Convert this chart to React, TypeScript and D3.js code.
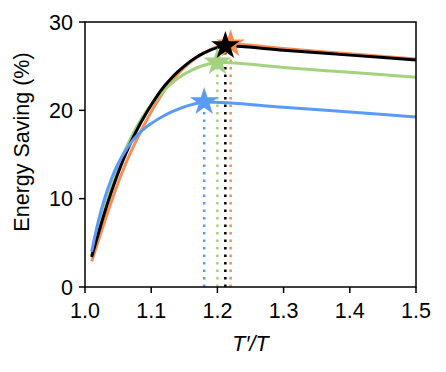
import React from "react";
import * as d3 from "d3";

const xRise = [1.01, 1.02, 1.03, 1.04, 1.05, 1.06, 1.07, 1.08, 1.09, 1.1, 1.11, 1.12, 1.13, 1.14, 1.15, 1.16, 1.17, 1.18, 1.19, 1.2, 1.21];

const blueRise = [4.0, 7.4, 10.1, 12.25, 13.95, 15.3, 16.4, 17.25, 17.95, 18.5, 19.0, 19.42, 19.8, 20.12, 20.4, 20.62, 20.8];
const greenRise = [3.6, 6.4, 9.0, 11.4, 13.5, 15.4, 17.0, 18.4, 19.6, 20.6, 21.5, 22.3, 23.0, 23.6, 24.1, 24.5, 24.85, 25.1, 25.3];
const orangeRise = [2.9, 5.2, 7.5, 9.7, 11.8, 13.7, 15.4, 16.95, 18.45, 19.85, 21.1, 22.25, 23.25, 24.1, 24.85, 25.5, 26.05, 26.5, 26.9, 27.2, 27.4];
const blackRise = [3.4, 6.0, 8.5, 10.8, 12.9, 14.8, 16.5, 18.0, 19.35, 20.6, 21.75, 22.75, 23.6, 24.35, 25.0, 25.6, 26.1, 26.5, 26.85, 27.1, 27.28];

// optimum (star) for each series
const peakX = { blue: 1.18, green: 1.2, orange: 1.22, black: 1.212 };
const peakY = { blue: 20.95, green: 25.45, orange: 27.5, black: 27.3 };

// decline after the optimum
const xFall = [1.3, 1.4, 1.5];
const blueFall = [20.35, 19.8, 19.25];
const greenFall = [24.85, 24.3, 23.75];
const orangeFall = [27.0, 26.4, 25.8];
const blackFall = [26.8, 26.25, 25.7];

const xTicks = [1.0, 1.1, 1.2, 1.3, 1.4, 1.5];
const yTicks = [0, 10, 20, 30];

const colors = { blue: "#5a9bf7", green: "#a4d27f", orange: "#f98d52", black: "#000000" };

type Pt = [number, number];

function build(rise: number[], key: keyof typeof peakX, fall: number[]): Pt[] {
  const pts: Pt[] = [];
  rise.forEach((v, i) => {
    if (xRise[i] < peakX[key] - 0.001) pts.push([xRise[i], v]);
  });
  pts.push([peakX[key], peakY[key]]);
  fall.forEach((v, i) => pts.push([xFall[i], v]));
  return pts;
}

// drawing order: later ones sit on top
const series = [
  { key: "orange" as const, pts: build(orangeRise, "orange", orangeFall) },
  { key: "green" as const, pts: build(greenRise, "green", greenFall) },
  { key: "black" as const, pts: build(blackRise, "black", blackFall) },
  { key: "blue" as const, pts: build(blueRise, "blue", blueFall) },
];

function starPath(R: number) {
  const r = R * 0.382;
  const pts: string[] = [];
  for (let i = 0; i < 10; i++) {
    const rad = i % 2 === 0 ? R : r;
    const a = -Math.PI / 2 + (i * Math.PI) / 5;
    pts.push(`${(rad * Math.cos(a)).toFixed(2)},${(rad * Math.sin(a)).toFixed(2)}`);
  }
  return "M" + pts.join("L") + "Z";
}

export default function App() {
  const width = 446;
  const height = 372;
  const left = 85;
  const right = 416;
  const top = 22;
  const bottom = 287;

  const x = d3.scaleLinear().domain([1.0, 1.5]).range([left, right]);
  const y = d3.scaleLinear().domain([0, 30]).range([bottom, top]);

  const line = d3
    .line<Pt>()
    .x((d) => x(d[0]))
    .y((d) => y(d[1]))
    .curve(d3.curveMonotoneX);

  const star = starPath(12.5);
  const font = "'Liberation Sans', Arial, sans-serif";
  const fs = 21.5;

  return (
    <svg
      width={width}
      height={height}
      style={{ position: "absolute", left: 0, top: 0, background: "#fff" }}
      fontFamily={font}
    >
      <defs>
        <clipPath id="plot">
          <rect x={left} y={top} width={right - left} height={bottom - top} />
        </clipPath>
      </defs>

      {/* dotted drop lines to the x axis */}
      {series.map((s) => (
        <line
          key={"drop-" + s.key}
          x1={x(peakX[s.key])}
          x2={x(peakX[s.key])}
          y1={y(0)}
          y2={y(peakY[s.key])}
          stroke={colors[s.key]}
          strokeWidth={2.5}
          strokeDasharray="2.5,5"
        />
      ))}

      <g clipPath="url(#plot)">
        {series.map((s) => (
          <path
            key={"line-" + s.key}
            d={line(s.pts) || ""}
            fill="none"
            stroke={colors[s.key]}
            strokeWidth={3}
          />
        ))}
      </g>

      {series.map((s) => (
        <path
          key={"star-" + s.key}
          d={star}
          transform={`translate(${x(peakX[s.key])},${y(peakY[s.key])})`}
          fill={colors[s.key]}
          stroke={colors[s.key]}
          strokeWidth={1.5}
        />
      ))}

      {/* frame */}
      <rect x={left} y={top} width={right - left} height={bottom - top} fill="none" stroke="#000" strokeWidth={1.5} />

      {/* x axis */}
      {xTicks.map((t) => (
        <g key={"xt" + t} transform={`translate(${x(t)},${bottom})`}>
          <line y1={0} y2={6} stroke="#000" strokeWidth={1.5} />
          <text y={31} textAnchor="middle" fontSize={fs} fill="#000">
            {t.toFixed(1)}
          </text>
        </g>
      ))}
      <text x={(left + right) / 2} y={351} textAnchor="middle" fontSize={fs} fontStyle="italic" fill="#000">
        T′/T
      </text>

      {/* y axis */}
      {yTicks.map((t) => (
        <g key={"yt" + t} transform={`translate(${left},${y(t)})`}>
          <line x1={0} x2={-6} stroke="#000" strokeWidth={1.5} />
          <text x={-12} dy="0.36em" textAnchor="end" fontSize={fs} fill="#000">
            {t}
          </text>
        </g>
      ))}
      <text
        transform={`translate(29,142) rotate(-90)`}
        textAnchor="middle"
        fontSize={fs}
        fill="#000"
      >
        Energy Saving (%)
      </text>
    </svg>
  );
}
